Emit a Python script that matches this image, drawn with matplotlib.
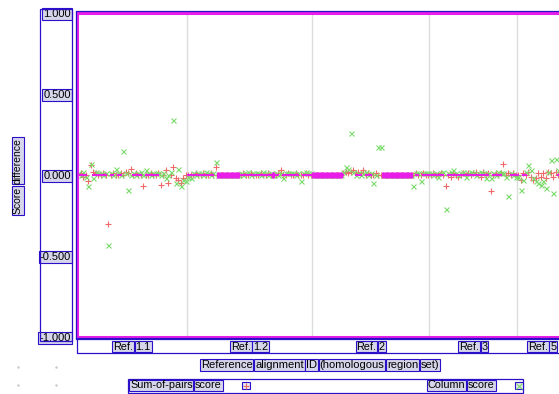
import numpy as np
import matplotlib.pyplot as plt
from matplotlib.patches import Rectangle
from matplotlib.lines import Line2D

plt.rcParams['font.family'] = ['Liberation Sans', 'DejaVu Sans']

# data: score difference per alignment, grouped by BAliBASE reference set
groups = ["1.1", "1.2", "2", "3", "5"]

sp_ref11 = [0.00, 0.01, -0.01, 0.00, -0.04, 0.06, 0.02, 0.01, 0.00, 0.00, 0.01, 0.00,
            -0.30, 0.00, 0.01, 0.00, 0.00, 0.01, 0.00, 0.02, 0.01, 0.04, 0.00, 0.01,
            0.00, 0.00, -0.07, 0.00, 0.00, 0.01, 0.00, 0.00, 0.01, -0.06, 0.00, 0.03,
            -0.05, 0.00, 0.05, -0.02, -0.03, -0.05, -0.02, 0.00]
cs_ref11 = [0.01, 0.00, 0.02, -0.01, -0.07, 0.07, -0.02, 0.02, 0.01, 0.01, 0.00, 0.01,
            -0.43, 0.01, 0.00, 0.04, 0.01, 0.00, 0.15, 0.01, -0.09, 0.00, 0.01, 0.00,
            0.01, 0.02, 0.00, 0.03, 0.01, 0.00, 0.01, 0.01, 0.01, 0.00, 0.01, -0.02,
            0.00, 0.02, 0.34, -0.05, 0.04, -0.07, -0.03, -0.04]

sp_ref12 = [0.00, 0.00, 0.00, 0.01, 0.00, 0.00, 0.01, 0.00, 0.00, 0.01, 0.00, 0.05,
            0.00, 0.00, 0.00, 0.00, 0.00, 0.00, 0.00, 0.00, 0.00, 0.00, 0.01, 0.00,
            0.00, 0.01, 0.00, 0.00, 0.00, 0.01, 0.00, 0.00, 0.01, 0.00, 0.00, 0.00,
            0.01, 0.03, 0.00, 0.00, 0.01, 0.00, 0.00, 0.01, 0.00, 0.00, 0.00, 0.01,
            0.00, 0.00]
cs_ref12 = [-0.01, -0.02, 0.01, 0.00, 0.01, 0.01, 0.00, 0.02, 0.01, 0.00, 0.01, 0.08,
            0.00, 0.00, 0.00, 0.00, 0.00, 0.00, 0.00, 0.00, 0.00, 0.01, 0.00, 0.01,
            0.02, 0.00, 0.01, 0.01, 0.01, 0.00, 0.02, 0.01, 0.00, 0.01, 0.00, 0.01,
            0.00, 0.01, -0.02, 0.01, 0.01, 0.01, 0.01, 0.00, 0.01, -0.04, 0.01, 0.02,
            0.01, 0.01]

sp_ref2 = [0.00, 0.00, 0.00, 0.00, 0.00, 0.00, 0.00, 0.00, 0.00, 0.00, 0.00, 0.00,
           0.01, 0.02, 0.01, 0.02, 0.03, 0.01, 0.02, 0.01, 0.03, 0.00, 0.01, 0.00,
           0.00, 0.01, 0.00, 0.00, 0.00, 0.00, 0.00, 0.00, 0.00, 0.00, 0.00, 0.00,
           0.00, 0.00, 0.00, 0.00, 0.00, 0.01, 0.00, 0.00, 0.01, 0.00, 0.00]
cs_ref2 = [0.00, 0.00, 0.00, 0.00, 0.00, 0.00, 0.00, 0.00, 0.00, 0.00, 0.00, 0.00,
           0.02, 0.05, 0.04, 0.26, 0.02, 0.00, 0.01, 0.00, 0.01, 0.02, 0.00, 0.01,
           -0.05, 0.00, 0.17, 0.17, 0.00, 0.00, 0.00, 0.00, 0.00, 0.00, 0.00, 0.00,
           0.00, 0.00, 0.00, 0.00, -0.07, 0.01, 0.01, -0.04, 0.01, 0.01, 0.01]

sp_ref3 = [0.00, 0.01, 0.00, 0.00, 0.01, 0.00, -0.07, 0.00, -0.01, 0.01, 0.00, -0.01,
           0.00, 0.01, 0.00, 0.01, 0.00, 0.01, 0.02, 0.00, -0.01, 0.02, 0.00, 0.01,
           -0.10, 0.00, 0.01, 0.00, 0.01, 0.07, 0.00, 0.01, 0.00, 0.01, 0.00]
cs_ref3 = [0.01, 0.00, 0.01, -0.01, 0.01, 0.02, -0.21, 0.01, 0.02, 0.03, 0.01, 0.00,
           0.01, 0.02, -0.01, 0.01, 0.02, 0.01, 0.00, 0.01, 0.02, 0.01, -0.02, 0.01,
           -0.02, 0.01, 0.00, 0.02, 0.01, 0.01, -0.01, -0.13, 0.01, 0.00, -0.01]

sp_ref5 = [0.00, -0.03, 0.01, 0.00, 0.02, -0.01, -0.03, -0.02, 0.01, -0.01,
           0.01, -0.02, 0.02, 0.01, -0.01, 0.02, 0.00, 0.01, 0.00, 0.00]
cs_ref5 = [-0.01, -0.09, -0.03, 0.02, 0.06, 0.03, -0.02, -0.04, -0.05, -0.06,
           -0.04, -0.08, 0.02, 0.09, -0.11, 0.10, 0.03, -0.02, 0.01, 0.01]

sp_groups = [sp_ref11, sp_ref12, sp_ref2, sp_ref3, sp_ref5]
cs_groups = [cs_ref11, cs_ref12, cs_ref2, cs_ref3, cs_ref5]

W, H = 559, 394
MAG = '#e81ee8'
BLUE = '#2a10c8'
BOXFC = '#d6d6ea'
RED = '#ee6a6a'
GREEN = '#7ada6a'


def fx(px):
    return px / W


def fy(py):
    return 1 - py / H


fig = plt.figure(figsize=(W / 100, H / 100), dpi=100)
ax = fig.add_axes([fx(77), fy(337), 490 / W, 324 / H])

sizes = [len(s) for s in sp_groups]
edges = np.concatenate([[0], np.cumsum(sizes)])
sp = np.concatenate(sp_groups)
cs = np.concatenate(cs_groups)
x = np.arange(len(sp)) + 0.5

ax.set_xlim(0, edges[-1])
ax.set_ylim(-1, 1)

for e in edges[1:-1]:
    ax.axvline(e, color='#dcdcdc', lw=1, zorder=0)

# near-identical runs drawn as a thin line, exact ties as a thick band
near = (np.abs(sp) <= 0.02) & (np.abs(cs) <= 0.03)
ax.plot(x, sp, '+', color=RED, ms=4.0, mew=0.8, zorder=2)
ax.plot(x, cs, 'x', color=GREEN, ms=3.6, mew=0.8, zorder=2)
ax.plot(x, np.where(near, 0.0, np.nan), color=MAG, lw=1.5, zorder=2.5)
tie = (sp == 0) & (cs == 0)
ax.plot(x[tie], np.zeros(tie.sum()), '|', color=MAG, ms=4.6, mew=2.2, zorder=3)

for s in ax.spines.values():
    s.set_color(MAG)
    s.set_linewidth(2.2)

ax.set_xticks([])
ax.set_yticks([-1, -0.5, 0, 0.5, 1])
ax.set_yticklabels([f"{v:.3f}" for v in [-1, -0.5, 0, 0.5, 1]])
ax.tick_params(axis='y', length=0, pad=4.5, labelsize=8)
for lab in ax.get_yticklabels():
    lab.set_bbox(dict(boxstyle='square,pad=0.08', fc=BOXFC, ec=BLUE, lw=0.8))

# blue frame lines around plot area
for (x0, y0, x1, y1) in [(76.5, 11.3, W, 11.3), (76.5, 338.6, W, 338.6), (76.3, 11.3, 76.3, 338.6)]:
    fig.add_artist(Line2D([fx(x0), fx(x1)], [fy(y0), fy(y1)], color=BLUE, lw=0.9))

fig.add_artist(Rectangle((fx(40), fy(341)), 32 / W, 332 / H, fill=False, ec=BLUE, lw=0.9))
fig.add_artist(Rectangle((fx(77), fy(353)), 500 / W, 15 / H, fill=False, ec=BLUE, lw=0.9))

renderer = fig.canvas.get_renderer()
box = dict(boxstyle='square,pad=0.08', fc=BOXFC, ec=BLUE, lw=0.8)


def boxed_words(words, px, py, size, align='center', rotation=0, gap=2.5):
    texts = [fig.text(0, 0, w, fontsize=size, ha='center', va='center', bbox=box)
             for w in words]
    lens = [t.get_window_extent(renderer).width for t in texts]
    total = sum(lens) + gap * (len(words) - 1)
    pos = -total / 2 if align == 'center' else 0
    for t, l in zip(texts, lens):
        mid = pos + l / 2
        if rotation:
            t.set_rotation(rotation)
            t.set_position((fx(px), fy(py) + mid / H))
        else:
            t.set_position((fx(px) + mid / W, fy(py)))
        pos += l + gap
    return texts


# category labels under each group
for g, a, b in zip(groups, edges[:-1], edges[1:]):
    cx = ax.transData.transform(((a + b) / 2, 0))[0]
    boxed_words(["Ref.", g], cx, 346.5, 7.8)

boxed_words("Reference alignment ID (homologous region set)".split(), 320, 365, 8)
boxed_words(["Score", "difference"], 18, 176, 7.5, rotation=90, gap=3.5)

# legend
fig.add_artist(Rectangle((fx(128), fy(393)), 395 / W, 14 / H, fill=False, ec=BLUE, lw=0.9))
boxed_words(["Sum-of-pairs", "score"], 130, 385.5, 7.8, align='left')
boxed_words(["Column", "score"], 428, 385.5, 7.8, align='left')
for mx, m, c in [(246, '+', RED), (519, 'x', GREEN)]:
    fig.add_artist(Rectangle((fx(mx - 4), fy(389)), 8 / W, 7 / H, fc='#e6e6f0', ec=BLUE, lw=0.8))
    fig.add_artist(Line2D([fx(mx)], [fy(385.5)], marker=m, color=c, ms=4, mew=0.8))

for dx, dy in [(18, 367), (56, 367), (18, 385), (56, 385)]:
    fig.add_artist(Line2D([fx(dx)], [fy(dy)], marker='.', color='#c8c8c8', ms=1.5))

fig.savefig('out.png', dpi=100)
